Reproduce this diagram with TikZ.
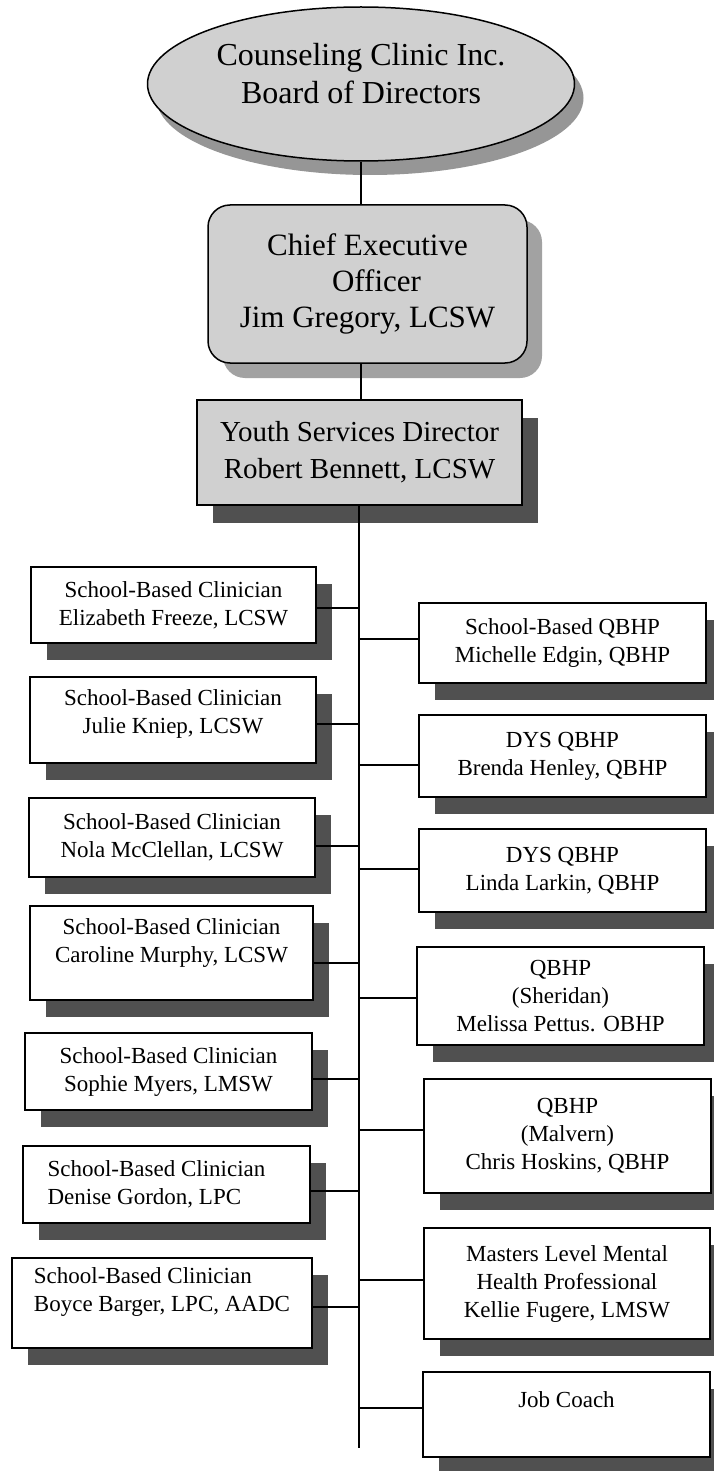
\documentclass[tikz,border=0pt]{standalone}
\usepackage{fontspec}
\setmainfont{Liberation Serif}
\usetikzlibrary{shapes.geometric,shadows}
\definecolor{boxgray}{HTML}{D0D0D0}
\definecolor{darkshadow}{HTML}{505050}
\definecolor{lightshadow}{HTML}{A2A2A2}
\definecolor{ellshadow}{HTML}{969696}
\begin{document}
\begin{tikzpicture}[x=1pt,y=-1pt,
  conn/.style={draw=black,line width=1.4pt},
  topbox/.style={draw=black,line width=1.5pt,fill=boxgray,inner sep=0pt,align=center},
  staff/.style={rectangle,draw=black,line width=1.5pt,fill=white,inner sep=0pt,
    align=center,font=\fontsize{23}{28}\selectfont,minimum width=287pt,
    general shadow={fill=darkshadow,shadow xshift=16pt,shadow yshift=-17pt}},
  staffleft/.style={staff,align=left}
]
\useasboundingbox (0,0) rectangle (714,1471);
\fill[white] (0,0) rectangle (714,1471);
\clip (0,0) rectangle (714,1471);

% top of the chart
\node[topbox,ellipse,minimum width=427pt,minimum height=154pt,
  general shadow={fill=ellshadow,shadow xshift=9pt,shadow yshift=-14pt}] (board) at (361,84) {};
\node[font=\fontsize{32}{38}\selectfont,align=center] (boardtext) at (361,74)
  {Counseling Clinic Inc.\\Board of Directors};

\node[topbox,rectangle,rounded corners=22pt,minimum width=319pt,minimum height=158pt,
  font=\fontsize{31}{36}\selectfont,
  general shadow={fill=lightshadow,shadow xshift=15pt,shadow yshift=-15pt}] (ceo) at (367.5,284)
  {Chief Executive\\\hspace*{18pt}Officer\\Jim Gregory, LCSW};

\node[topbox,rectangle,minimum width=325pt,minimum height=105pt,
  font=\fontsize{29}{37}\selectfont,
  general shadow={fill=darkshadow,shadow xshift=16pt,shadow yshift=-18pt}] (ysd) at (359.5,452.5)
  {Youth Services Director\\Robert Bennett, LCSW};

\coordinate (trunkend) at (359,1448);

% left column
\node[staff,minimum width=285pt,minimum height=76pt] (l1) at (173.5,605)
  {School-Based Clinician\\Elizabeth Freeze, LCSW};
\node[staff,minimum width=286pt,minimum height=86pt] (l2) at (173,720)
  {School-Based Clinician\\Julie Kniep, LCSW\\[-11pt]\mbox{}};
\node[staff,minimum width=286pt,minimum height=79pt] (l3) at (172,837.5)
  {School-Based Clinician\\Nola McClellan, LCSW};
\node[staff,minimum width=283pt,minimum height=94pt] (l4) at (171.5,953)
  {School-Based Clinician\\Caroline Murphy, LCSW\\[-3pt]\mbox{}};
\node[staff,minimum width=287pt,minimum height=77pt] (l5) at (168.5,1071.5)
  {School-Based Clinician\\Sophie Myers, LMSW};
\node[staffleft,minimum width=287pt,minimum height=77pt] (l6) at (166.5,1184.5)
  {School-Based Clinician\hspace*{20pt}\\Denise Gordon, LPC};
\node[staffleft,minimum width=300pt,minimum height=90pt] (l7) at (162,1303)
  {School-Based Clinician\\Boyce Barger, LPC, AADC\hspace*{6pt}\\[-1pt]\mbox{}};

% right column
\node[staff,minimum height=80pt] (r1) at (562.5,643)
  {School-Based QBHP\\Michelle Edgin, QBHP};
\node[staff,minimum height=82pt] (r2) at (562.5,756)
  {DYS QBHP\\Brenda Henley, QBHP};
\node[staff,minimum height=83pt] (r3) at (562.5,870.5)
  {DYS QBHP\\Linda Larkin, QBHP};
\node[staff,minimum height=98pt] (r4) at (560.5,996)
  {QBHP\\(Sheridan)\\Melissa Pettus. OBHP};
\node[staff,minimum height=114pt] (r5) at (567.5,1136)
  {QBHP\\(Malvern)\\Chris Hoskins, QBHP};
\node[staff,minimum width=286pt,minimum height=111pt] (r6) at (567,1283.5)
  {Masters Level Mental\\Health Professional\\Kellie Fugere, LMSW};
\node[staff,minimum height=85pt] (r7) at (566.5,1414.5)
  {Job Coach\\[2pt]\mbox{}};

% connectors
\draw[conn] (board.south) -- (board.south |- ceo.north);
\draw[conn] (ceo.south -| board.south) -- (ysd.north -| board.south);
\draw[conn] (ysd.south -| trunkend) -- (trunkend);

\draw[conn] ([yshift=-3pt]l1.east) -- ([yshift=-3pt]l1.east -| trunkend);
\draw[conn] ([yshift=-4pt]l2.east) -- ([yshift=-4pt]l2.east -| trunkend);
\draw[conn] ([yshift=-8.5pt]l3.east) -- ([yshift=-8.5pt]l3.east -| trunkend);
\draw[conn] ([yshift=-10pt]l4.east) -- ([yshift=-10pt]l4.east -| trunkend);
\draw[conn] ([yshift=-7.5pt]l5.east) -- ([yshift=-7.5pt]l5.east -| trunkend);
\draw[conn] ([yshift=-6.5pt]l6.east) -- ([yshift=-6.5pt]l6.east -| trunkend);
\draw[conn] ([yshift=-4pt]l7.east) -- ([yshift=-4pt]l7.east -| trunkend);

\draw[conn] ([yshift=4pt]r1.west) -- ([yshift=4pt]r1.west -| trunkend);
\draw[conn] ([yshift=-9pt]r2.west) -- ([yshift=-9pt]r2.west -| trunkend);
\draw[conn] ([yshift=1.5pt]r3.west) -- ([yshift=1.5pt]r3.west -| trunkend);
\draw[conn] ([yshift=-2pt]r4.west) -- ([yshift=-2pt]r4.west -| trunkend);
\draw[conn] ([yshift=6pt]r5.west) -- ([yshift=6pt]r5.west -| trunkend);
\draw[conn] ([yshift=3.5pt]r6.west) -- ([yshift=3.5pt]r6.west -| trunkend);
\draw[conn] ([yshift=6.5pt]r7.west) -- ([yshift=6.5pt]r7.west -| trunkend);
\end{tikzpicture}
\end{document}
